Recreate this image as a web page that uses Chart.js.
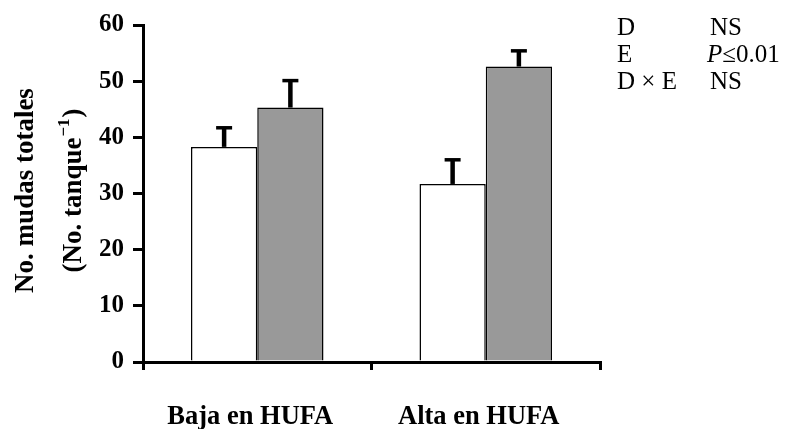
<!DOCTYPE html>
<html>
<head>
<meta charset="utf-8">
<script src="https://cdn.jsdelivr.net/npm/chart.js@4.4.1/dist/chart.umd.min.js"></script>
<style>
  html, body { margin: 0; padding: 0; background: #ffffff; }
  #wrap { width: 786px; height: 429px; }
</style>
</head>
<body>
<div id="wrap"><canvas id="c" width="786" height="429"></canvas></div>
<script>
// Diet groups and treatment means with their standard errors
const categories = ['Baja en HUFA', 'Alta en HUFA'];
const meansWhite = [38.3, 31.7];
const errWhite = [3.4, 4.3];
const meansGray = [45.3, 52.6];
const errGray = [4.8, 2.8];
const yTicks = [0, 10, 20, 30, 40, 50, 60];

// Significance summary shown at the upper right
const effectNames = ['D', 'E', 'D \u00d7 E'];
const effectResults = ['NS', 'P\u22640.01', 'NS'];

const SERIF = '"Liberation Serif", "Times New Roman", serif';

// Upward-only error bars with a flat cap
const errorBarPlugin = {
  id: 'errorBars',
  afterDatasetsDraw(chart) {
    const ctx = chart.ctx;
    const yScale = chart.scales.y;
    ctx.save();
    ctx.strokeStyle = '#000';
    chart.data.datasets.forEach((ds, di) => {
      const meta = chart.getDatasetMeta(di);
      meta.data.forEach((bar, i) => {
        const top = yScale.getPixelForValue(ds.data[i] + ds.errorBars[i]);
        ctx.lineWidth = 4.5;
        ctx.beginPath();
        ctx.moveTo(bar.x, bar.y);
        ctx.lineTo(bar.x, top);
        ctx.stroke();
        ctx.lineWidth = 3.5;
        ctx.beginPath();
        ctx.moveTo(bar.x - 8, top);
        ctx.lineTo(bar.x + 8, top);
        ctx.stroke();
      });
    });
    ctx.restore();
  }
};

// Rotated two-line axis title and the effects table
const textPlugin = {
  id: 'sideTexts',
  afterDraw(chart) {
    const ctx = chart.ctx;
    const area = chart.chartArea;
    const cy = (area.top + area.bottom) / 2 - 3;
    ctx.save();
    ctx.fillStyle = '#000';

    // axis title, line 1
    ctx.save();
    ctx.translate(33, cy);
    ctx.rotate(-Math.PI / 2);
    ctx.font = 'bold 27px ' + SERIF;
    ctx.textAlign = 'center';
    ctx.textBaseline = 'alphabetic';
    ctx.fillText('No. mudas totales', 0, 0);
    ctx.restore();

    // axis title, line 2 with superscript
    ctx.save();
    ctx.translate(81, cy);
    ctx.rotate(-Math.PI / 2);
    ctx.textBaseline = 'alphabetic';
    ctx.textAlign = 'left';
    const mainFont = 'bold 27px ' + SERIF;
    const supFont = 'bold 17px ' + SERIF;
    const p1 = '(No. tanque', p2 = '\u22121', p3 = ')';
    ctx.font = mainFont; const w1 = ctx.measureText(p1).width; const w3 = ctx.measureText(p3).width;
    ctx.font = supFont; const w2 = ctx.measureText(p2).width;
    let x0 = -(w1 + w2 + 2 + w3) / 2;
    ctx.font = mainFont; ctx.fillText(p1, x0, 0);
    ctx.font = supFont; ctx.fillText(p2, x0 + w1 + 1, -12);
    ctx.font = mainFont; ctx.fillText(p3, x0 + w1 + w2 + 2, 0);
    ctx.restore();

    // effects table
    ctx.textAlign = 'left';
    ctx.textBaseline = 'alphabetic';
    const rows = [35, 62, 89];
    effectNames.forEach((name, i) => {
      ctx.font = '25px ' + SERIF;
      ctx.fillText(name, 617, rows[i]);
      const res = effectResults[i];
      if (res.startsWith('P')) {
        ctx.font = 'italic 25px ' + SERIF;
        ctx.fillText('P', 707, rows[i]);
        const wp = ctx.measureText('P').width;
        ctx.font = '25px ' + SERIF;
        ctx.fillText(res.slice(1), 707 + wp, rows[i]);
      } else {
        ctx.font = '25px ' + SERIF;
        ctx.fillText(res, 710, rows[i]);
      }
    });
    ctx.restore();
  }
};

new Chart(document.getElementById('c'), {
  type: 'bar',
  data: {
    labels: categories,
    datasets: [
      {
        label: 'blanco',
        data: meansWhite,
        errorBars: errWhite,
        backgroundColor: '#ffffff',
        borderColor: '#000000',
        borderWidth: 1.5,
        categoryPercentage: 0.58,
        barPercentage: 1.0
      },
      {
        label: 'gris',
        data: meansGray,
        errorBars: errGray,
        backgroundColor: '#999999',
        borderColor: '#000000',
        borderWidth: 1.5,
        categoryPercentage: 0.58,
        barPercentage: 1.0
      }
    ]
  },
  options: {
    responsive: false,
    animation: false,
    devicePixelRatio: 1,
    layout: { padding: { left: 0, right: 186, top: 25, bottom: 0 } },
    plugins: {
      legend: { display: false },
      tooltip: { enabled: false },
      title: { display: false }
    },
    scales: {
      x: {
        offset: true,
        grid: {
          display: true,
          offset: true,
          drawOnChartArea: false,
          drawTicks: true,
          tickLength: 8,
          color: '#000',
          lineWidth: 3
        },
        border: { display: true, color: '#000', width: 3 },
        ticks: {
          color: '#000',
          padding: 31,
          labelOffset: -7,
          font: { family: SERIF, size: 26.5, weight: 'bold' }
        },
        afterFit(scale) { scale.height = 67; }
      },
      y: {
        min: 0,
        max: 60,
        afterBuildTicks(scale) { scale.ticks = yTicks.map(v => ({ value: v })); },
        grid: {
          display: true,
          drawOnChartArea: false,
          drawTicks: true,
          tickLength: 10,
          color: '#000',
          lineWidth: 3
        },
        border: { display: true, color: '#000', width: 3 },
        ticks: {
          color: '#000',
          padding: 9,
          font: { family: SERIF, size: 25, weight: 'bold' }
        },
        afterFit(scale) { scale.width = 143; }
      }
    }
  },
  plugins: [errorBarPlugin, textPlugin]
});
</script>
</body>
</html>
